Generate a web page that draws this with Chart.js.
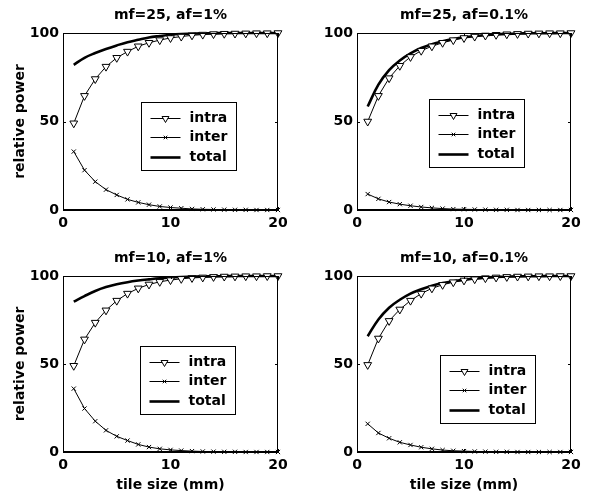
<!DOCTYPE html>
<html>
<head>
<meta charset="utf-8">
<script src="https://cdn.jsdelivr.net/npm/chart.js@4.4.0/dist/chart.umd.min.js"></script>
<style>
  body { margin: 0; background: #fff; }
  #wrap { position: relative; width: 594px; height: 498px; }
  canvas { position: absolute; }
</style>
</head>
<body>
<div id="wrap">
  <canvas id="c1" width="297" height="249" style="left:0;top:0"></canvas>
  <canvas id="c2" width="297" height="249" style="left:297px;top:0"></canvas>
  <canvas id="c3" width="297" height="249" style="left:0;top:249px"></canvas>
  <canvas id="c4" width="297" height="249" style="left:297px;top:249px"></canvas>
</div>
<script>
// data
const tileSize = [1, 2, 3, 4, 5, 6, 7, 8, 9, 10, 11, 12, 13, 14, 15, 16, 17, 18, 19, 20];
const xTicks = [0, 10, 20];
const yTicks = [0, 50, 100];

// mf=25, af=1%
const intra25a = [49, 64.5, 74, 81, 86, 89.5, 92.5, 94.5, 96, 97.2, 98, 98.7, 99.1, 99.4, 99.6, 99.7, 99.8, 99.9, 99.9, 100];
const inter25a = [33, 22.5, 16, 11.5, 8.5, 6, 4.3, 3, 2, 1.4, 1, 0.6, 0.4, 0.3, 0.2, 0.1, 0.1, 0, 0, 0];
const total25a = [82, 86, 88.7, 91, 93, 94.8, 96.2, 97.5, 98.3, 99, 99.4, 99.6, 99.8, 99.9, 100, 100, 100, 100, 100, 100];

// mf=25, af=0.1%
const intra25b = [50, 64.5, 74.5, 81.5, 86.5, 90, 92.5, 94.5, 96, 97.2, 98, 98.6, 99, 99.3, 99.5, 99.7, 99.8, 99.9, 99.9, 100];
const inter25b = [9, 6.3, 4.5, 3.3, 2.4, 1.7, 1.2, 0.8, 0.5, 0.4, 0.3, 0.2, 0.1, 0.1, 0, 0, 0, 0, 0, 0];
const total25b = [58.5, 70.8, 79, 84.5, 88.5, 91.5, 93.7, 95.3, 96.6, 97.6, 98.3, 98.8, 99.2, 99.5, 99.7, 99.8, 99.9, 99.9, 100, 100];

// mf=10, af=1%
const intra10a = [49, 64, 73.5, 80.5, 86, 90, 93, 95.2, 96.7, 97.7, 98.4, 98.9, 99.2, 99.5, 99.7, 99.8, 99.9, 99.9, 100, 100];
const inter10a = [36, 24.7, 17.5, 12.3, 8.9, 6.5, 4.3, 2.8, 1.8, 1.2, 0.8, 0.5, 0.3, 0.2, 0.1, 0.1, 0, 0, 0, 0];
const total10a = [85.4, 88.6, 91.5, 93.7, 95.3, 96.5, 97.4, 98.1, 98.7, 99.1, 99.4, 99.6, 99.8, 99.9, 99.9, 100, 100, 100, 100, 100];

// mf=10, af=0.1%
const intra10b = [49.5, 64.5, 74.5, 81, 86, 90, 93, 95, 96.5, 97.5, 98.2, 98.8, 99.2, 99.5, 99.7, 99.8, 99.9, 99.9, 100, 100];
const inter10b = [16, 10.8, 7.8, 5.5, 4, 2.7, 1.8, 1.1, 0.7, 0.5, 0.3, 0.2, 0.1, 0.1, 0, 0, 0, 0, 0, 0];
const total10b = [65.8, 75.3, 82, 86.5, 90, 92.5, 94.5, 96, 97, 97.9, 98.6, 99.1, 99.4, 99.6, 99.8, 99.9, 99.9, 100, 100, 100];

Chart.defaults.font.family = '"DejaVu Sans", sans-serif';
Chart.defaults.font.size = 14;
Chart.defaults.font.weight = 'bold';
Chart.defaults.color = '#000';

const FONT = { family: '"DejaVu Sans", sans-serif', size: 14, weight: 'bold', lineHeight: 1.2 };

// box round the plot + small inward ticks
const boxPlugin = {
  id: 'box',
  afterDatasetsDraw(chart) {
    const { ctx, chartArea: a, scales } = chart;
    ctx.save();
    ctx.strokeStyle = '#000';
    ctx.lineWidth = 1;
    ctx.strokeRect(Math.round(a.left) + 0.5, Math.round(a.top) + 0.5, Math.round(a.width) - 1, Math.round(a.height) - 1);
    ctx.beginPath();
    scales.x.ticks.forEach(t => {
      const px = Math.round(scales.x.getPixelForValue(t.value)) + 0.5;
      ctx.moveTo(px, a.bottom); ctx.lineTo(px, a.bottom - 3);
      ctx.moveTo(px, a.top); ctx.lineTo(px, a.top + 3);
    });
    scales.y.ticks.forEach(t => {
      const py = Math.round(scales.y.getPixelForValue(t.value)) + 0.5;
      ctx.moveTo(a.left, py); ctx.lineTo(a.left + 3, py);
      ctx.moveTo(a.right, py); ctx.lineTo(a.right - 3, py);
    });
    ctx.stroke();
    ctx.restore();
  }
};

// legend box inside the plot
const legendBox = {
  id: 'legendBox',
  afterDraw(chart, args, o) {
    const { ctx, chartArea: a } = chart;
    const x0 = Math.round(a.left + o.dx) + 0.5, y0 = Math.round(a.top + o.dy) + 0.5;
    ctx.save();
    ctx.fillStyle = '#fff';
    ctx.fillRect(x0, y0, o.w, o.h);
    ctx.strokeStyle = '#000';
    ctx.lineWidth = 1;
    ctx.strokeRect(x0, y0, o.w, o.h);
    ctx.font = 'bold 14px "DejaVu Sans"';
    ctx.textBaseline = 'middle';
    chart.data.datasets.forEach((ds, i) => {
      const y = Math.round(y0 + o.row0 + i * o.rowGap);
      ctx.strokeStyle = ds.borderColor;
      ctx.lineWidth = ds.borderWidth;
      ctx.beginPath();
      ctx.moveTo(x0 + 9, y + 0.5);
      ctx.lineTo(x0 + 39, y + 0.5);
      ctx.stroke();
      if (ds.pointRadius > 0) {
        ctx.fillStyle = ds.pointBackgroundColor;
        ctx.strokeStyle = ds.pointBorderColor;
        ctx.lineWidth = ds.pointBorderWidth;
        Chart.helpers.drawPoint(ctx, {
          pointStyle: ds.pointStyle, rotation: ds.pointRotation,
          radius: ds.pointRadius - 0.5, borderWidth: ds.pointBorderWidth
        }, x0 + 24, y + 0.5);
      }
      ctx.fillStyle = '#000';
      ctx.fillText(ds.label, x0 + 48, y + 0.5);
    });
    ctx.restore();
  }
};

function pts(ys) {
  return ys.map((y, i) => ({ x: tileSize[i], y: y }));
}

function makeChart(id, title, intra, inter, total, lay) {
  new Chart(document.getElementById(id), {
    type: 'line',
    data: {
      datasets: [
        {
          label: 'intra', data: pts(intra),
          borderColor: '#000', borderWidth: 1,
          pointStyle: 'triangle', pointRotation: 180, pointRadius: 4.5,
          pointBackgroundColor: '#fff', pointBorderColor: '#000', pointBorderWidth: 1,
          clip: false
        },
        {
          label: 'inter', data: pts(inter),
          borderColor: '#000', borderWidth: 1,
          pointStyle: 'crossRot', pointRadius: 3,
          pointBackgroundColor: '#000', pointBorderColor: '#000', pointBorderWidth: 1,
          clip: false
        },
        {
          label: 'total', data: pts(total),
          borderColor: '#000', borderWidth: 2.6, tension: 0.4,
          pointRadius: 0, pointBackgroundColor: '#000', pointBorderColor: '#000', pointBorderWidth: 0,
          clip: false
        }
      ]
    },
    options: {
      responsive: false,
      animation: false,
      events: [],
      layout: { padding: { top: 0, right: lay.padRight, bottom: 0, left: 0 } },
      plugins: {
        legend: { display: false },
        tooltip: { enabled: false },
        title: {
          display: true, text: title, fullSize: false, color: '#000',
          font: FONT, padding: { top: lay.titleTop, bottom: lay.titleBottom }
        },
        legendBox: lay.legend
      },
      scales: {
        x: {
          type: 'linear', min: 0, max: 20,
          afterBuildTicks: s => { s.ticks = xTicks.map(v => ({ value: v })); },
          ticks: { font: FONT, color: '#000', padding: 5, maxRotation: 0 },
          grid: { display: false, drawTicks: false },
          border: { display: true, color: '#000' },
          title: { display: lay.xTitle, text: 'tile size (mm)', font: FONT, color: '#000', padding: { top: 0, bottom: 4 } },
          afterFit: s => { s.height = lay.xHeight; }
        },
        y: {
          type: 'linear', min: 0, max: 100,
          afterBuildTicks: s => { s.ticks = yTicks.map(v => ({ value: v })); },
          ticks: { font: FONT, color: '#000', padding: 4 },
          grid: { display: false, drawTicks: false },
          border: { display: true, color: '#000' },
          title: { display: lay.yTitle, text: 'relative power', font: FONT, color: '#000', padding: { top: 12, bottom: 0 } },
          afterFit: s => { s.width = lay.yWidth; }
        }
      }
    },
    plugins: [boxPlugin, legendBox]
  });
}

const legendSize = { w: 95, h: 68, row0: 15, rowGap: 19.5 };

makeChart('c1', 'mf=25, af=1%', intra25a, inter25a, total25a, {
  padRight: 19, yWidth: 63, xHeight: 39, titleTop: 7, titleBottom: 9.2,
  xTitle: false, yTitle: true, legend: Object.assign({ dx: 78, dy: 69 }, legendSize)
});
makeChart('c2', 'mf=25, af=0.1%', intra25b, inter25b, total25b, {
  padRight: 23, yWidth: 60, xHeight: 39, titleTop: 7, titleBottom: 9.2,
  xTitle: false, yTitle: false, legend: Object.assign({ dx: 72, dy: 66 }, legendSize)
});
makeChart('c3', 'mf=10, af=1%', intra10a, inter10a, total10a, {
  padRight: 19, yWidth: 63, xHeight: 46, titleTop: 1, titleBottom: 9.2,
  xTitle: true, yTitle: true, legend: Object.assign({ dx: 77, dy: 70 }, legendSize)
});
makeChart('c4', 'mf=10, af=0.1%', intra10b, inter10b, total10b, {
  padRight: 23, yWidth: 60, xHeight: 46, titleTop: 1, titleBottom: 9.2,
  xTitle: true, yTitle: false, legend: Object.assign({ dx: 83, dy: 79 }, legendSize)
});
</script>
</body>
</html>
